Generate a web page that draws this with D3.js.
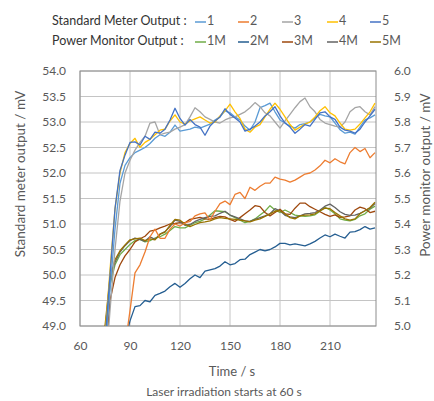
<!DOCTYPE html>
<html>
<head>
<meta charset="utf-8">
<script src="https://cdn.jsdelivr.net/npm/d3@7"></script>
<style>
  body { margin: 0; background: #fff; }
  text { font-family: Lato, "Open Sans", sans-serif; }
</style>
</head>
<body>
<div id="canvas"></div>
<script>
// data
const times = [72, 75, 78, 81, 84, 87, 90, 93, 96, 99, 102, 105, 108, 111, 114, 117, 120, 123, 126, 129,
  132, 135, 138, 141, 144, 147, 150, 153, 156, 159, 162, 165, 168, 171, 174, 177, 180, 183, 186, 189,
  192, 195, 198, 201, 204, 207, 210, 213, 216, 219, 222, 225, 228, 231, 234, 237];

// standard meter output, mV (left axis)
const meter1 = [47.0, 48.5, 49.7, 50.9, 51.8, 52.15, 52.3, 52.4, 52.45, 52.5, 52.58, 52.68, 52.75, 52.72, 52.8, 52.94, 52.82, 52.84, 52.86, 52.9,
  52.88, 52.92, 52.96, 53.04, 53.1, 53.22, 53.18, 53.1, 53.04, 52.92, 52.84, 53.0, 53.28, 53.32, 53.37, 53.2, 53.04, 52.98, 52.92, 52.88,
  52.95, 52.97, 53.0, 53.08, 53.15, 53.12, 53.1, 52.98, 52.85, 52.78, 52.8, 52.76, 52.9, 53.04, 53.08, 53.14];
const meter2 = [45.0, 45.5, 46.2, 47.0, 47.8, 48.6, 49.3, 50.04, 50.2, 50.45, 50.75, 50.9, 50.72, 50.72, 50.9, 51.0, 50.96, 51.02, 51.05, 51.16,
  51.2, 51.22, 51.08, 51.25, 51.4, 51.45, 51.38, 51.58, 51.62, 51.5, 51.72, 51.66, 51.74, 51.8, 51.8, 51.92, 51.88, 51.86, 51.82, 51.86,
  51.92, 51.98, 52.0, 52.06, 52.14, 52.25, 52.2, 52.28, 52.22, 52.18, 52.4, 52.5, 52.42, 52.48, 52.3, 52.4];
const meter3 = [46.5, 48.0, 49.3, 50.5, 51.45, 52.0, 52.25, 52.45, 52.6, 52.72, 52.98, 53.0, 52.75, 52.78, 52.8, 52.86, 52.9, 52.95, 53.1, 53.28,
  53.2, 53.1, 53.05, 53.0, 52.98, 53.04, 53.08, 53.1, 53.15, 53.2, 53.28, 53.38, 53.3, 53.18, 53.12, 53.0, 52.88, 53.02, 53.15, 53.28,
  53.4, 53.47, 53.3, 53.2, 53.05, 52.98, 52.95, 52.92, 52.9, 53.0, 53.2, 53.28, 53.3, 53.2, 53.14, 53.3];
const meter4 = [47.2, 48.8, 50.1, 51.3, 52.0, 52.4, 52.58, 52.68, 52.5, 52.6, 52.66, 52.75, 52.84, 52.86, 53.02, 53.14, 53.0, 52.96, 53.02, 53.06,
  53.1, 53.04, 52.98, 53.0, 53.12, 53.22, 53.35, 53.2, 53.07, 52.86, 52.8, 52.9, 52.95, 53.1, 53.25, 53.37, 53.25, 53.1, 52.95, 52.84,
  52.9, 52.96, 53.0, 53.1, 53.22, 53.3, 53.18, 53.12, 52.98, 52.86, 52.84, 52.86, 52.96, 53.08, 53.2, 53.37];
const meter5 = [47.0, 48.7, 50.0, 51.3, 52.05, 52.35, 52.6, 52.61, 52.55, 52.72, 52.66, 52.8, 52.78, 52.86, 53.04, 53.27, 53.07, 52.94, 53.05, 52.95,
  52.9, 52.74, 52.92, 53.02, 53.1, 53.26, 53.15, 53.08, 53.0, 52.82, 52.86, 52.92, 53.0, 53.12, 53.2, 53.3, 53.12, 52.98, 52.9, 52.78,
  52.86, 52.95, 52.92, 53.05, 53.18, 53.2, 53.1, 53.05, 52.9, 52.84, 52.82, 52.78, 52.86, 53.0, 53.12, 53.25];

// power monitor output, mV (right axis)
const monitor1 = [4.6, 4.95, 5.16, 5.24, 5.28, 5.3, 5.32, 5.335, 5.34, 5.33, 5.335, 5.345, 5.35, 5.36, 5.375, 5.39, 5.385, 5.385, 5.395, 5.405,
  5.41, 5.42, 5.435, 5.452, 5.45, 5.448, 5.435, 5.425, 5.415, 5.405, 5.41, 5.42, 5.435, 5.45, 5.472, 5.455, 5.445, 5.455, 5.445, 5.435,
  5.432, 5.43, 5.432, 5.436, 5.45, 5.465, 5.455, 5.44, 5.42, 5.415, 5.412, 5.418, 5.432, 5.44, 5.458, 5.47];
const monitor2 = [4.5, 4.6, 4.7, 4.78, 4.85, 4.94, 5.02, 5.076, 5.08, 5.1, 5.095, 5.12, 5.128, 5.137, 5.154, 5.167, 5.152, 5.167, 5.185, 5.2,
  5.19, 5.215, 5.22, 5.225, 5.235, 5.252, 5.24, 5.245, 5.26, 5.262, 5.28, 5.29, 5.3, 5.295, 5.3, 5.31, 5.324, 5.324, 5.318, 5.322,
  5.318, 5.314, 5.322, 5.332, 5.345, 5.357, 5.35, 5.36, 5.352, 5.345, 5.368, 5.37, 5.378, 5.39, 5.38, 5.385];
const monitor3 = [4.5, 4.85, 5.1, 5.19, 5.24, 5.275, 5.3, 5.33, 5.342, 5.352, 5.372, 5.376, 5.385, 5.392, 5.4, 5.402, 5.405, 5.405, 5.418, 5.422,
  5.426, 5.42, 5.418, 5.425, 5.43, 5.428, 5.418, 5.41, 5.425, 5.44, 5.455, 5.472, 5.468, 5.445, 5.432, 5.445, 5.458, 5.44, 5.438, 5.462,
  5.482, 5.482, 5.468, 5.458, 5.448, 5.438, 5.43, 5.436, 5.426, 5.428, 5.432, 5.455, 5.466, 5.46, 5.445, 5.45];
const monitor4 = [4.6, 4.98, 5.18, 5.25, 5.29, 5.315, 5.335, 5.345, 5.34, 5.332, 5.35, 5.34, 5.36, 5.37, 5.39, 5.415, 5.41, 5.395, 5.398, 5.41,
  5.418, 5.425, 5.43, 5.432, 5.442, 5.45, 5.435, 5.428, 5.42, 5.412, 5.41, 5.418, 5.425, 5.432, 5.44, 5.46, 5.452, 5.434, 5.428, 5.425,
  5.432, 5.44, 5.442, 5.445, 5.455, 5.47, 5.478, 5.465, 5.448, 5.438, 5.434, 5.435, 5.442, 5.452, 5.462, 5.48];
const monitor5 = [4.6, 5.0, 5.19, 5.26, 5.295, 5.318, 5.338, 5.342, 5.345, 5.335, 5.342, 5.338, 5.36, 5.368, 5.395, 5.418, 5.415, 5.4, 5.39, 5.398,
  5.405, 5.408, 5.412, 5.42, 5.425, 5.422, 5.42, 5.418, 5.415, 5.412, 5.408, 5.415, 5.42, 5.43, 5.44, 5.45, 5.452, 5.44, 5.425, 5.42,
  5.432, 5.435, 5.436, 5.44, 5.452, 5.462, 5.46, 5.445, 5.432, 5.42, 5.415, 5.42, 5.44, 5.452, 5.465, 5.485];

const meterNames = ['1', '2', '3', '4', '5'];
const monitorNames = ['1M', '2M', '3M', '4M', '5M'];
const meterColors = ['#5B9BD5', '#ED7D31', '#A5A5A5', '#FFC000', '#4472C4'];
const monitorColors = ['#70AD47', '#255E91', '#9E480E', '#636363', '#997300'];
const xTicks = [60, 90, 120, 150, 180, 210];
const leftTicks = [49.0, 49.5, 50.0, 50.5, 51.0, 51.5, 52.0, 52.5, 53.0, 53.5, 54.0];
const rightTicks = [5.0, 5.1, 5.2, 5.3, 5.4, 5.5, 5.6, 5.7, 5.8, 5.9, 6.0];

const meterSeries = [meter1, meter2, meter3, meter4, meter5];
const monitorSeries = [monitor1, monitor2, monitor3, monitor4, monitor5];

// layout
const width = 434;
const height = 401;
const plotLeft = 80, plotRight = 376, plotTop = 71, plotBottom = 326;

const x = d3.scaleLinear().domain([60, 237.6]).range([plotLeft, plotRight]);
const yLeft = d3.scaleLinear().domain([49, 54]).range([plotBottom, plotTop]);
const yRight = d3.scaleLinear().domain([5, 6]).range([plotBottom, plotTop]);

const svg = d3.select('#canvas')
  .append('svg').attr('width', width).attr('height', height);

svg.append('defs').append('clipPath').attr('id', 'plot-clip')
  .append('rect')
  .attr('x', plotLeft).attr('y', plotTop)
  .attr('width', plotRight - plotLeft).attr('height', plotBottom - plotTop);

// gridlines
svg.append('g')
  .selectAll('line')
  .data(leftTicks)
  .join('line')
  .attr('x1', plotLeft).attr('x2', plotRight)
  .attr('y1', d => yLeft(d)).attr('y2', d => yLeft(d))
  .attr('stroke', '#c4c4c4');
svg.append('g')
  .selectAll('line')
  .data(xTicks)
  .join('line')
  .attr('x1', d => x(d)).attr('x2', d => x(d))
  .attr('y1', plotTop).attr('y2', plotBottom)
  .attr('stroke', '#c4c4c4');

// frame
svg.append('rect')
  .attr('x', plotLeft).attr('y', plotTop)
  .attr('width', plotRight - plotLeft).attr('height', plotBottom - plotTop)
  .attr('fill', 'none')
  .attr('stroke', '#8c8c8c');

// axes
const fmt = d3.format('.1f');
const xAxis = svg.append('g')
  .attr('transform', `translate(0,${plotBottom})`)
  .call(d3.axisBottom(x).tickValues(xTicks).tickSize(0).tickPadding(15).tickFormat(d3.format('d')));
const lAxis = svg.append('g')
  .attr('transform', `translate(${plotLeft},0)`)
  .call(d3.axisLeft(yLeft).tickValues(leftTicks).tickSize(0).tickPadding(14).tickFormat(fmt));
const rAxis = svg.append('g')
  .attr('transform', `translate(${plotRight},0)`)
  .call(d3.axisRight(yRight).tickValues(rightTicks).tickSize(0).tickPadding(18).tickFormat(fmt));
[xAxis, lAxis, rAxis].forEach(a => {
  a.select('.domain').remove();
  a.selectAll('text')
    .style('font-family', 'Lato, sans-serif')
    .style('font-size', '12px')
    .attr('fill', '#595959');
});

// lines
const plot = svg.append('g').attr('clip-path', 'url(#plot-clip)');
const meterLine = d3.line().x((d, i) => x(times[i])).y(d => yLeft(d));
const monitorLine = d3.line().x((d, i) => x(times[i])).y(d => yRight(d));

monitorSeries.forEach((s, i) => {
  plot.append('path')
    .datum(s)
    .attr('d', monitorLine)
    .attr('fill', 'none')
    .attr('stroke', monitorColors[i])
    .attr('stroke-width', 1.3)
    .attr('stroke-linejoin', 'round');
});
meterSeries.forEach((s, i) => {
  plot.append('path')
    .datum(s)
    .attr('d', meterLine)
    .attr('fill', 'none')
    .attr('stroke', meterColors[i])
    .attr('stroke-width', 1.3)
    .attr('stroke-linejoin', 'round');
});

// axis titles
svg.append('text')
  .text('Standard meter output  / mV')
  .attr('transform', 'translate(22,174) rotate(-90)')
  .attr('text-anchor', 'middle')
  .attr('dominant-baseline', 'middle')
  .style('font-size', '13.5px')
  .attr('fill', '#595959');
svg.append('text')
  .text('Power monitor output  / mV')
  .attr('transform', 'translate(427,175) rotate(-90)')
  .attr('text-anchor', 'middle')
  .attr('dominant-baseline', 'middle')
  .style('font-size', '13.5px')
  .attr('fill', '#595959');
svg.append('text')
  .text('Time / s')
  .attr('x', 232).attr('y', 373)
  .attr('text-anchor', 'middle')
  .attr('dominant-baseline', 'middle')
  .style('font-size', '13px')
  .attr('fill', '#595959');
svg.append('text')
  .text('Laser irradiation starts at 60 s')
  .attr('x', 224).attr('y', 393)
  .attr('text-anchor', 'middle')
  .attr('dominant-baseline', 'middle')
  .style('font-size', '12px')
  .attr('fill', '#595959');

// legend
const legendX = [195, 238, 282, 327, 370];
const legendRows = [
  { label: 'Standard Meter Output :', names: meterNames, colors: meterColors, y: 22 },
  { label: 'Power Monitor Output :', names: monitorNames, colors: monitorColors, y: 42 }
];
legendRows.forEach(row => {
  svg.append('text')
    .text(row.label)
    .attr('x', 52).attr('y', row.y)
    .attr('dominant-baseline', 'middle')
    .style('font-size', '12.5px')
    .attr('fill', '#333333');
  row.names.forEach((n, i) => {
    svg.append('line')
      .attr('x1', legendX[i]).attr('x2', legendX[i] + 11)
      .attr('y1', row.y).attr('y2', row.y)
      .attr('stroke', row.colors[i])
      .attr('stroke-width', 1.5);
    svg.append('text')
      .text(n)
      .attr('x', legendX[i] + 12).attr('y', row.y)
      .attr('dominant-baseline', 'middle')
      .style('font-size', '12.5px')
      .attr('fill', '#595959');
  });
});
</script>
</body>
</html>
